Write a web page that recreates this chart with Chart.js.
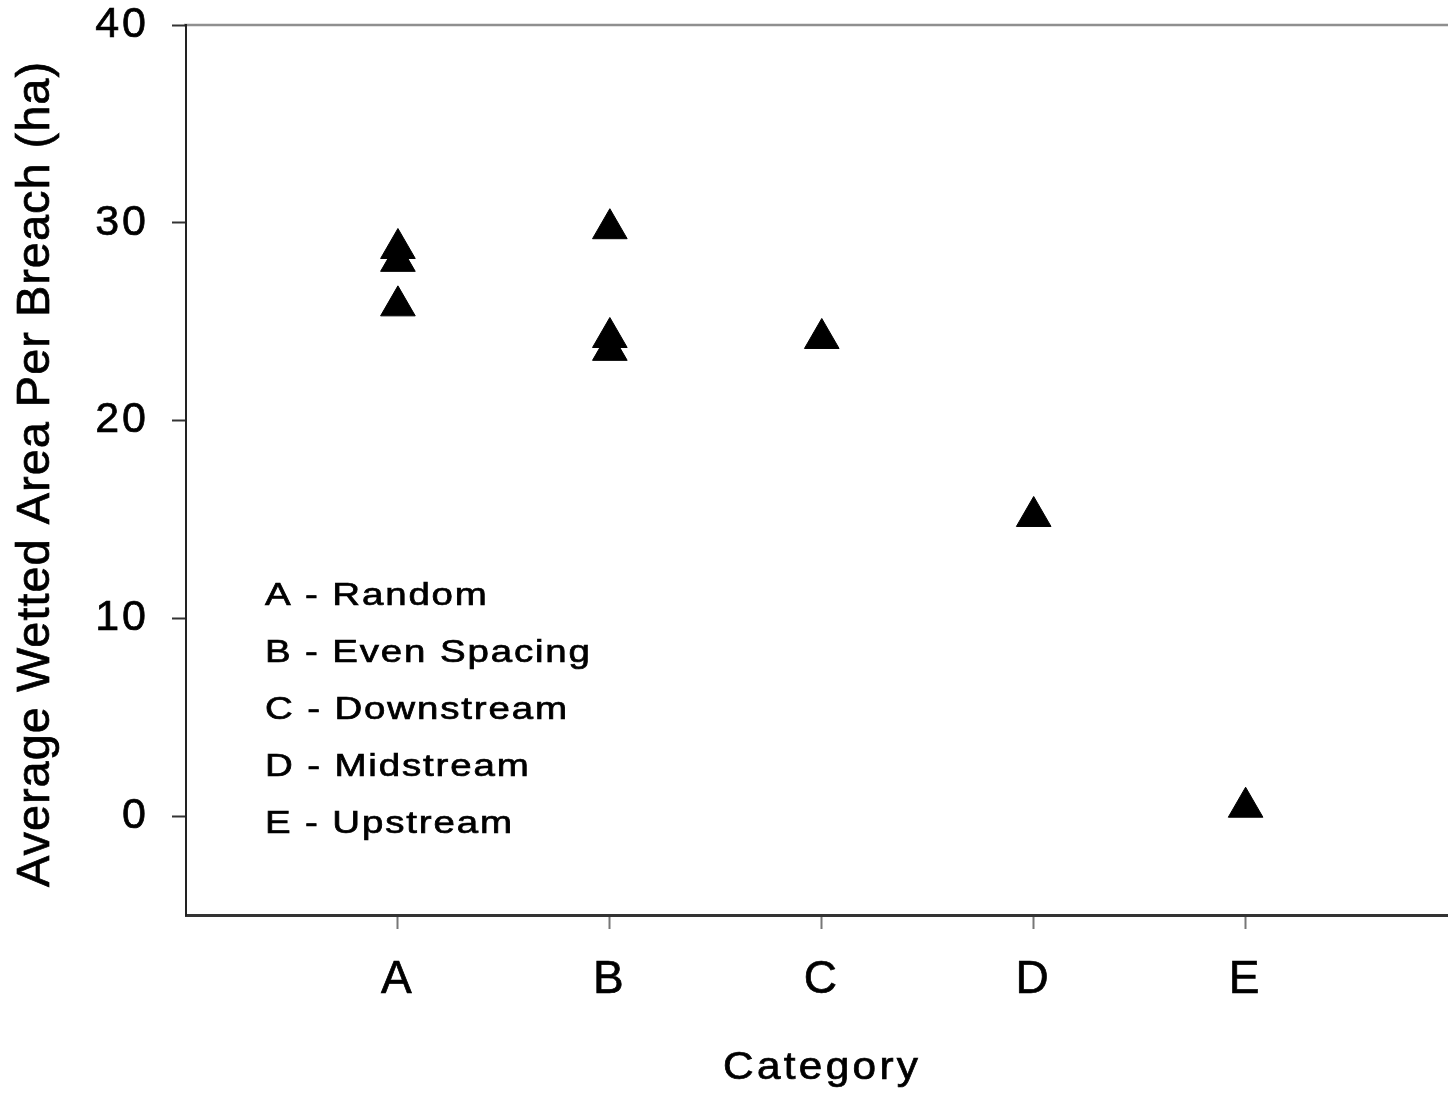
<!DOCTYPE html>
<html>
<head>
<meta charset="utf-8">
<script src="https://cdn.jsdelivr.net/npm/chart.js@4/dist/chart.umd.min.js"></script>
<style>
  html, body { margin: 0; padding: 0; background: #fff; }
  #wrap { width: 1448px; height: 1094px; position: relative; }
</style>
</head>
<body>
<div id="wrap"><canvas id="c" width="1448" height="1094"></canvas></div>
<script>
const categories = ['A', 'B', 'C', 'D', 'E'];
const categoryNames = ['Random', 'Even Spacing', 'Downstream', 'Midstream', 'Upstream'];
const pointCategory = ['A', 'A', 'A', 'B', 'B', 'B', 'C', 'D', 'E'];
const pointValue = [28.7, 28.05, 25.8, 29.7, 24.2, 23.55, 24.15, 15.15, 0.45];
const yTicks = [0, 10, 20, 30, 40];
const yTitle = 'Average Wetted Area Per Breach (ha)';
const xTitle = 'Category';

const FONT = '"Liberation Sans", Arial, Helvetica, sans-serif';

const points = pointValue.map((v, i) => ({ x: categories.indexOf(pointCategory[i]) + 1, y: v }));

function setSpacing(chart) { chart.ctx.letterSpacing = '3px'; }
function noPad(scale) {
  scale.paddingTop = 0; scale.paddingBottom = 0;
  scale.paddingLeft = 0; scale.paddingRight = 0;
}

function drawText(ctx, text, x, y, sx) {
  ctx.save();
  ctx.translate(x, y);
  ctx.scale(sx, 1);
  ctx.lineWidth = 0.7;
  ctx.strokeStyle = '#000';
  ctx.strokeText(text, 0, 0);
  ctx.fillText(text, 0, 0);
  ctx.restore();
}

const decor = {
  id: 'decor',
  beforeUpdate: setSpacing,
  beforeLayout: setSpacing,
  beforeDraw(chart) {
    setSpacing(chart);
    const { ctx, chartArea } = chart;
    ctx.save();
    ctx.strokeStyle = '#8f8f8f';
    ctx.lineWidth = 2.5;
    ctx.beginPath();
    ctx.moveTo(chartArea.left - 2, chartArea.top);
    ctx.lineTo(chart.width, chartArea.top);
    ctx.stroke();
    ctx.restore();
  },
  afterDraw(chart) {
    const ctx = chart.ctx;
    ctx.save();
    ctx.fillStyle = '#000';
    ctx.textBaseline = 'alphabetic';
    ctx.textAlign = 'left';

    // legend text block
    ctx.font = '31px ' + FONT;
    ctx.letterSpacing = '1.5px';
    const lines = categories.map((c, i) => c + ' - ' + categoryNames[i]);
    const wB = ctx.measureText(lines[1]).width - 1.5;
    const sx = 325 / wB;
    lines.forEach((t, i) => drawText(ctx, t, 265, 605 + 57 * i, sx));

    // x title
    ctx.font = '38px ' + FONT;
    ctx.letterSpacing = '3px';
    const wx = ctx.measureText(xTitle).width - 3;
    drawText(ctx, xTitle, 820.5 - 195 / 2, 1079, 195 / wx);

    // y title
    ctx.font = '47px ' + FONT;
    ctx.letterSpacing = '1px';
    const wy = ctx.measureText(yTitle).width - 1;
    const sy = 825 / wy;
    ctx.save();
    ctx.translate(49, 474.5);
    ctx.rotate(-Math.PI / 2);
    drawText(ctx, yTitle, -412.5, 0, sy);
    ctx.restore();

    ctx.restore();
  }
};

new Chart(document.getElementById('c'), {
  type: 'scatter',
  data: {
    datasets: [{
      data: points,
      pointStyle: 'triangle',
      pointRadius: 20,
      pointHoverRadius: 20,
      backgroundColor: '#000',
      borderColor: '#000',
      borderWidth: 1
    }]
  },
  options: {
    responsive: false,
    animation: false,
    devicePixelRatio: 1,
    layout: { autoPadding: false, padding: { top: 25, right: 0, bottom: 0, left: 0 } },
    plugins: { legend: { display: false }, tooltip: { enabled: false } },
    scales: {
      x: {
        type: 'linear',
        min: 0,
        max: 5.955,
        afterBuildTicks(scale) { scale.ticks = categories.map((c, i) => ({ value: i + 1 })); },
        afterFit(scale) { scale.height = 179; noPad(scale); },
        ticks: {
          color: '#000',
          padding: 28,
          font: { family: FONT, size: 46, lineHeight: 1 },
          textStrokeColor: '#000',
          textStrokeWidth: 0.7,
          maxRotation: 0,
          callback: (v) => categories[Math.round(v) - 1] || ''
        },
        grid: { drawOnChartArea: false, tickLength: 14, tickColor: '#777', tickWidth: 2 },
        border: { color: '#333', width: 3 }
      },
      y: {
        type: 'linear',
        min: -5,
        max: 40,
        afterBuildTicks(scale) { scale.ticks = yTicks.map(v => ({ value: v })); },
        afterFit(scale) { scale.width = 186; noPad(scale); },
        ticks: {
          color: '#000',
          padding: 23,
          font: { family: FONT, size: 43, lineHeight: 1 },
          textStrokeColor: '#000',
          textStrokeWidth: 0.7
        },
        grid: { drawOnChartArea: false, tickLength: 14, tickColor: '#333', tickWidth: 2 },
        border: { color: '#222', width: 2 }
      }
    }
  },
  plugins: [decor]
});
</script>
</body>
</html>
